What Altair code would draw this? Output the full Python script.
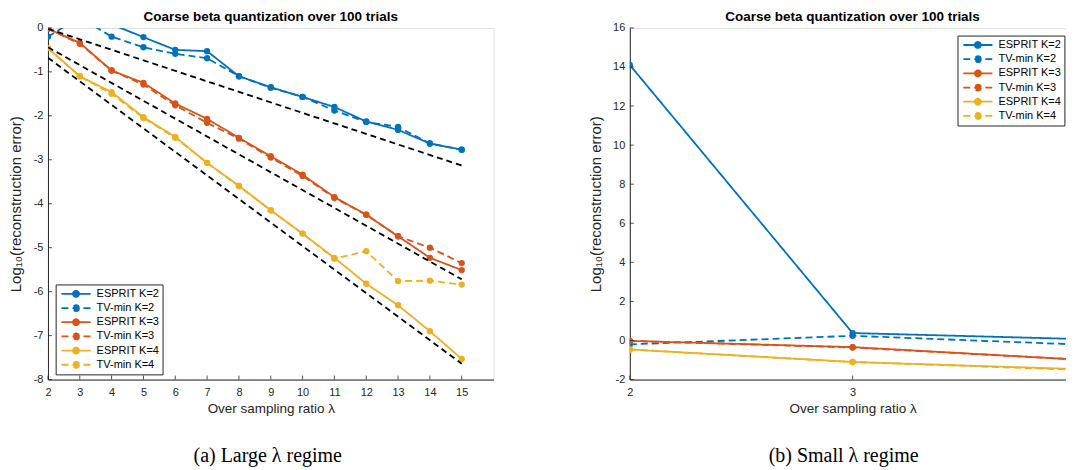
import altair as alt
import pandas as pd

# ---------------- data ----------------
x_vals = list(range(2, 16))
esprit_k2 = [14.1, 0.38, 0.08, -0.21, -0.50, -0.53, -1.10, -1.35, -1.57, -1.80, -2.13, -2.32, -2.63, -2.77]
tvmin_k2 = [-0.20, 0.24, -0.20, -0.44, -0.59, -0.69, -1.10, -1.36, -1.57, -1.88, -2.14, -2.25, -2.63, -2.77]
esprit_k3 = [-0.02, -0.34, -0.97, -1.25, -1.72, -2.07, -2.50, -2.92, -3.34, -3.85, -4.25, -4.74, -5.23, -5.51]
tvmin_k3 = [-0.02, -0.36, -0.97, -1.29, -1.76, -2.16, -2.52, -2.95, -3.37, -3.87, -4.25, -4.74, -5.00, -5.35]
esprit_k4 = [-0.46, -1.10, -1.46, -2.03, -2.48, -3.07, -3.59, -4.15, -4.68, -5.23, -5.82, -6.31, -6.90, -7.53]
tvmin_k4 = [-0.46, -1.10, -1.50, -2.05, -2.50, -3.07, -3.60, -4.15, -4.68, -5.25, -5.08, -5.76, -5.75, -5.84]

series_names = ["ESPRIT K=2", "TV-min K=2", "ESPRIT K=3", "TV-min K=3", "ESPRIT K=4", "TV-min K=4"]
series_values = [esprit_k2, tvmin_k2, esprit_k3, tvmin_k3, esprit_k4, tvmin_k4]
series_colors = ["#0072BD", "#0072BD", "#D95319", "#D95319", "#EDB120", "#EDB120"]
series_dashes = [[1, 0], [7, 4], [1, 0], [7, 4], [1, 0], [7, 4]]

# black dashed reference slopes (large-lambda panel only)
ref_x = [2, 15]
ref_names = ["slope K=2", "slope K=3", "slope K=4"]
ref_k2 = [-0.02, -3.13]
ref_k3 = [-0.44, -5.72]
ref_k4 = [-0.68, -7.64]

x_ticks_large = list(range(2, 16))
y_ticks_large = list(range(-8, 1))
x_ticks_small = [2, 3, 4]
y_ticks_small = list(range(-2, 17, 2))

title_text = "Coarse beta quantization over 100 trials"
x_title = "Over sampling ratio λ"
y_title = "Log₁₀(reconstruction error)"
captions = ["(a) Large λ regime", "(b) Small λ regime"]

# ---------------- tables ----------------
rows = []
for name, vals in zip(series_names, series_values):
    for xv, yv in zip(x_vals, vals):
        rows.append({"x": xv, "y": yv, "series": name})
df = pd.DataFrame(rows)

ref_rows = []
for name, vals in zip(ref_names, [ref_k2, ref_k3, ref_k4]):
    for xv, yv in zip(ref_x, vals):
        ref_rows.append({"x": xv, "y": yv, "ref": name})
ref_df = pd.DataFrame(ref_rows)

# ---------------- style ----------------
W, H = 446, 352
FONT = "Liberation Sans"
AX = "#262626"
SYMBOL = "M-2.43,0H2.43M0.5,0A0.5,0.5,0,1,1,-0.5,0A0.5,0.5,0,1,1,0.5,0Z"


def make_legend(lx, ly):
    return alt.Legend(
        title=None, orient="none", legendX=lx, legendY=ly,
        symbolType=SYMBOL, symbolSize=144, symbolStrokeWidth=1.8,
        symbolOffset=11, labelOffset=13.6,
        labelFont=FONT, labelFontSize=11, labelColor="black",
        strokeColor=AX, fillColor="white", padding=2.4, rowPadding=0.2,
        cornerRadius=0,
    )


def panel(xmax, ymin, ymax, xt, yt, lx, ly, caption, cap_x, with_ref):
    d = df[df["x"] <= xmax]
    xs = alt.Scale(domain=[2, xmax], nice=False, zero=False)
    ys = alt.Scale(domain=[ymin, ymax], nice=False, zero=False)
    xax = alt.Axis(values=xt, title=x_title, tickSize=0, labelPadding=7, titlePadding=4,
                   grid=False, domainColor=AX, domainWidth=1, labelColor=AX, titleColor=AX,
                   labelFont=FONT, labelFontSize=11, titleFont=FONT, titleFontSize=13.5,
                   titleFontWeight="normal", labelExpr="'' + datum.value",
                   labelFlush=False, labelOverlap=False)
    yax = alt.Axis(values=yt, title=y_title, tickSize=0, labelPadding=5, titlePadding=9.6,
                   grid=False, domainColor=AX, domainWidth=1, labelColor=AX, titleColor=AX,
                   labelFont=FONT, labelFontSize=11, titleFont=FONT, titleFontSize=15,
                   titleFontWeight="normal", labelExpr="'' + datum.value",
                   labelFlush=False, labelOverlap=False)
    leg = make_legend(lx, ly)
    X = alt.X("x:Q", scale=xs, axis=xax)
    Y = alt.Y("y:Q", scale=ys, axis=yax)

    lines = alt.Chart(d).mark_line(strokeWidth=1.8, clip=True).encode(
        x=X, y=Y,
        stroke=alt.Stroke("series:N", scale=alt.Scale(domain=series_names, range=series_colors), legend=leg),
        strokeDash=alt.StrokeDash("series:N", scale=alt.Scale(domain=series_names, range=series_dashes), legend=leg),
    )
    pts = alt.Chart(d).mark_circle(size=40, opacity=1, clip=True).encode(
        x=X, y=Y,
        fill=alt.Fill("series:N", scale=alt.Scale(domain=series_names, range=series_colors), legend=leg),
    )
    layers = [lines, pts]
    if with_ref:
        ref = alt.Chart(ref_df).mark_line(color="black", strokeDash=[6, 4], strokeWidth=1.8, clip=True).encode(
            x=X, y=Y, detail="ref:N")
        layers.append(ref)
    xtick = alt.Chart(pd.DataFrame({"x": xt})).mark_rule(color=AX, strokeWidth=0.8).encode(
        x=X, y=alt.value(H), y2=alt.value(H - 4))
    ytick = alt.Chart(pd.DataFrame({"y": yt})).mark_rule(color=AX, strokeWidth=0.8).encode(
        y=Y, x=alt.value(0), x2=alt.value(4))
    cap = alt.Chart(pd.DataFrame({"c": [caption]})).mark_text(
        font="Liberation Serif", fontSize=20, align="center", baseline="middle", color="black"
    ).encode(x=alt.value(cap_x), y=alt.value(H + 77), text="c:N")
    layers += [xtick, ytick, cap]
    return alt.layer(*layers).properties(
        width=W, height=H,
        title=alt.TitleParams(title_text, font=FONT, fontSize=13.5, fontWeight="bold",
                              color="black", frame="group", anchor="middle", offset=-1.7),
    )


left = panel(16, -8, 0, x_ticks_large, y_ticks_large, 7.7, 256.8, captions[0], 220, True)
right = panel(4, -2, 16, x_ticks_small, y_ticks_small, 328, 7.7, captions[1], 214, False)

chart = alt.hconcat(left, right, spacing=92.4).resolve_scale(
    x="independent", y="independent", stroke="independent", fill="independent", strokeDash="independent"
).properties(
    padding={"left": 0, "top": 0.7, "right": -13, "bottom": 0}
).configure_view(stroke=None).configure(background="white")

chart.save("out.html", embed_options={"renderer": "svg", "actions": False})
